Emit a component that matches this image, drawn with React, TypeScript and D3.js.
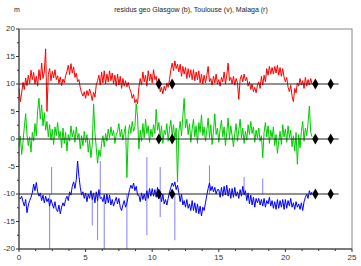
import * as d3 from "d3";

const W = 361;
const H = 266;
const MARGIN = { top: 29, right: 9, bottom: 17, left: 19 };

const TITLE = "residus geo Glasgow (b), Toulouse (v), Malaga (r)";
const Y_UNIT = "m";

// sampling step of the three series (days)
const STEP = 0.1;

// Malaga (r)
const malaga = [
  9.2, 6.8, 8.4, 10.3, 9.0, 11.1, 9.7, 11.6, 10.1, 12.5,
  10.8, 12.1, 10.0, 11.4, 9.6, 12.6, 10.7, 13.8, 11.0, 12.2,
  16.4, 5.0, 11.7, 12.8, 10.6, 12.3, 11.1, 12.6, 10.8, 11.5,
  10.1, 11.3, 9.7, 10.9, 10.2, 11.5, 12.3, 13.4, 11.7, 13.7,
  12.0, 13.1, 11.2, 12.0, 10.4, 10.8, 9.3, 8.4, 7.8, 8.6,
  7.4, 8.8, 7.9, 9.1, 8.2, 7.0, 8.5, 7.6, 9.8, 10.6,
  11.6, 9.8, 12.2, 10.2, 12.4, 10.0, 11.8, 10.4, 12.4, 10.6,
  12.0, 10.0, 11.6, 9.6, 11.8, 9.8, 11.4, 9.2, 11.0, 9.6,
  10.6, 9.5, 10.3, 9.2, 8.6, 7.4, 8.1, 6.6, 7.2, 6.4,
  9.4, 11.0, 9.8, 12.2, 10.4, 11.6, 9.6, 12.4, 10.6, 11.8,
  10.2, 12.6, 10.8, 11.4, 9.6, 11.0, 8.6, 9.4, 8.2, 9.6,
  8.8, 10.2, 9.4, 10.8, 12.6, 13.8, 12.4, 14.2, 12.8, 13.6,
  12.2, 13.6, 11.4, 13.2, 11.8, 13.0, 11.0, 12.8, 11.2, 12.6,
  10.8, 12.6, 10.6, 12.2, 10.8, 12.4, 10.2, 11.8, 10.0, 11.6,
  10.2, 11.6, 13.2, 10.4, 11.0, 9.8, 11.4, 10.2, 11.8, 10.0,
  10.8, 9.6, 11.2, 10.4, 12.2, 10.0, 11.6, 13.8, 10.6, 11.2,
  10.0, 11.4, 9.8, 11.0, 10.2, 7.2, 10.8, 11.6, 10.4, 11.8,
  10.6, 11.2, 9.6, 10.4, 9.0, 10.0, 8.6, 9.4, 8.4, 9.8,
  10.4, 9.2, 11.4, 9.8, 11.6, 10.4, 12.8, 11.6, 13.2, 11.8,
  13.0, 11.8, 13.2, 12.0, 13.4, 11.6, 13.0, 11.4, 12.8, 11.2,
  10.4, 11.2, 9.4, 8.6, 9.8, 7.8, 6.8, 9.2, 8.4, 10.2,
  9.6, 11.0, 9.8, 10.6, 9.2, 11.2, 9.6, 10.8, 9.8, 11.0,
  10.0,
];

// Toulouse (v)
const toulouse = [
  -1.5, 0.5, -2.8, -0.6, 2.2, 4.6, 0.8, -1.2, 0.4, -2.4,
  1.2, -0.4, 2.8, 0.6, 5.2, 7.4, 3.6, 6.2, 2.4, 4.8,
  1.6, 3.2, 0.4, 2.6, -0.2, 1.8, -1.0, 2.2, 0.6, 3.0,
  0.2, 1.4, -1.6, 2.0, -0.8, 1.2, -2.2, 0.8, -0.4, 2.4,
  0.4, 1.6, -0.6, 2.2, 0.0, 1.0, -1.8, 0.6, -1.2, 1.4,
  -0.6, 0.8, -2.4, -0.2, -3.4, -1.0, 6.4, 1.2, -1.6, -4.4,
  -2.0, -3.2, -0.8, 0.6, -1.4, 1.0, -0.4, 1.8, 0.2, 2.2,
  0.6, 1.6, -0.8, 0.8, 1.4, 2.8, 0.4, 1.8, -0.2, 1.2,
  2.4, -7.0, 0.8, 2.6, 1.0, 3.2, 1.4, 2.2, 6.4, 4.0,
  -1.8, 1.6, -0.4, 2.8, 0.2, 3.6, 1.0, 2.4, -0.6, 1.8,
  0.4, 2.6, 1.0, 5.4, 1.6, 3.0, 0.2, 2.4, -0.8, 1.6,
  0.8, 2.8, -0.4, 1.8, 3.4, 0.6, 2.6, -0.2, 2.0, -7.8,
  1.4, 3.2, 0.6, 4.2, 7.4, 2.0, 3.6, 0.8, 2.8, -0.6,
  1.8, 3.6, 0.4, 2.4, -0.8, 3.0, 1.2, 4.4, 0.6, 2.2,
  -0.4, 1.6, 3.8, 0.2, 2.6, -1.0, 1.4, 4.6, 0.8, 2.0,
  -0.6, 1.8, 3.4, 0.4, 2.2, -1.2, 1.2, 3.8, 0.0, 2.4,
  0.6, -1.4, 1.0, 2.8, -0.4, 1.6, 3.6, 0.2, 2.0, -0.8,
  1.4, -0.2, 2.6, 0.8, 3.2, 1.0, 2.2, -0.6, 1.6, 0.2,
  2.0, -0.4, 0.6, -3.4, 1.2, 3.0, 0.4, 2.4, -0.8, 1.6,
  0.2, 2.2, -1.2, 0.8, -2.6, -0.4, 1.4, -1.0, 2.6, 0.4,
  1.8, -0.6, 2.4, 0.2, 1.6, -1.4, 0.6, -2.2, 1.2, -4.6,
  0.8, -1.6, 1.4, 3.2, -0.4, 2.0, 0.6, 2.8, 6.0, 1.2,
  0.4,
];

// Glasgow (b)
const glasgow = [
  -10.6, -10.9, -10.4, -11.4, -12.2, -11.0, -13.4, -12.0, -11.2, -10.6,
  -9.8, -8.2, -9.4, -7.9, -9.6, -10.4, -9.8, -11.2, -10.2, -11.6,
  -10.4, -11.4, -10.8, -12.2, -11.0, -11.8, -12.6, -11.4, -12.8, -13.2,
  -12.0, -13.6, -12.4, -11.6, -12.2, -11.0, -10.4, -11.2, -9.6, -10.2,
  -8.6, -7.8, -9.0, -7.4, -4.0, -6.8, -8.8, -10.2, -9.6, -10.8,
  -9.8, -11.4, -10.0, -10.8, -9.4, -11.0, -9.8, -11.6, -9.6, -11.2,
  -9.2, -10.8, -10.6, -11.4, -10.2, -11.8, -10.0, -11.6, -10.2, -12.0,
  -11.0, -12.2, -11.4, -10.6, -11.8, -10.8, -12.4, -13.0, -12.0, -11.2,
  -12.4, -11.6, -10.4, -9.2, -8.4, -9.0, -8.0, -9.4, -8.6, -10.2,
  -10.2, -11.4, -9.8, -11.0, -10.0, -11.2, -9.4, -10.8, -9.0, -10.4,
  -9.0, -10.4, -9.2, -10.6, -8.8, -10.8, -9.6, -11.4, -10.0, -11.8,
  -11.0, -12.0, -10.8, -9.6, -8.8, -8.0, -8.6, -7.8, -9.2, -8.4,
  -9.8, -11.4, -10.0, -12.0, -11.2, -12.4, -11.0, -12.6, -11.8, -13.0,
  -11.2, -13.0, -11.6, -13.4, -11.8, -13.6, -12.2, -14.0, -12.4, -13.0,
  -11.6, -10.2, -9.0, -8.0, -9.4, -8.6, -9.6, -8.8, -10.0, -9.2,
  -9.2, -10.6, -8.8, -10.4, -8.6, -10.2, -8.4, -10.4, -9.0, -10.8,
  -9.0, -10.6, -8.8, -10.4, -9.6, -10.8, -9.2, -10.4, -8.6, -10.2,
  -9.4, -11.2, -9.8, -11.8, -10.2, -12.0, -10.6, -12.4, -10.8, -11.6,
  -10.8, -12.0, -11.0, -12.2, -10.8, -12.4, -11.2, -11.8, -10.6, -12.2,
  -11.2, -12.6, -11.4, -12.8, -11.0, -12.6, -11.2, -12.4, -11.0, -12.8,
  -11.0, -12.6, -11.2, -12.2, -10.8, -12.4, -11.6, -12.8, -11.4, -12.4,
  -11.8, -12.8, -11.6, -13.0, -11.4, -10.6, -10.0, -10.8, -9.4, -10.2,
  -9.6,
];

// isolated outliers of Glasgow: [time, low, high]
const glasgowSpikes: [number, number, number][] = [
  [2.3, -20, -10], [2.45, -10, -5.1], [5.5, -15.7, -10], [5.9, -18.4, -10],
  [6.1, -10, -4], [6.4, -20, -10], [8.1, -20, -10], [9.6, -17.5, -3.3],
  [10.6, -14.2, -5.1], [11.7, -18.4, -10], [14.3, -10, -4.8],
  [16.9, -10, -6.9], [18.3, -10, -7.2],
];

const refLevels = [10, 0, -10];
const refEnd = 24;
const markerTimes = [10.5, 11.5, 22.25, 23.4];

const xTicks = [0, 5, 10, 15, 20, 25];
const yTicks = [-20, -15, -10, -5, 0, 5, 10, 15, 20];

const SERIES = [
  { name: "Malaga", values: malaga, color: "#ff0000" },
  { name: "Toulouse", values: toulouse, color: "#00cc00" },
  { name: "Glasgow", values: glasgow, color: "#0000ff" },
];

export default function App() {
  const x = d3.scaleLinear().domain([0, 25]).range([MARGIN.left, W - MARGIN.right]);
  const y = d3.scaleLinear().domain([-20, 20]).range([H - MARGIN.bottom, MARGIN.top]);

  const line = d3
    .line<number>()
    .x((_, i) => x(i * STEP))
    .y((d) => y(d));

  const xMinor = d3.range(0, 25.01, 1.25).filter((v) => !xTicks.includes(v));
  const yMinor = d3.range(-20, 20.01, 2.5).filter((v) => !yTicks.includes(v));

  const diamond = d3.symbol(d3.symbolDiamond, 34)();

  const font = "'Liberation Sans', Arial, sans-serif";

  return (
    <div style={{ position: "absolute", left: 0, top: 0 }}>
      <svg width={W} height={H} style={{ display: "block", background: "#fff" }}>
        <text x={17} y={12} fontSize={7} fontFamily={font} fill="#222" textAnchor="middle">
          {Y_UNIT}
        </text>
        <text x={191} y={12} fontSize={7} fontFamily={font} fill="#222" textAnchor="middle">
          {TITLE}
        </text>

        {/* frame */}
        <rect
          x={x(0)}
          y={y(20)}
          width={x(25) - x(0)}
          height={y(-20) - y(20)}
          fill="none"
          stroke="#888"
          strokeWidth={1}
        />

        {SERIES.map((s) => (
          <path key={s.name} d={line(s.values) ?? ""} fill="none" stroke={s.color} strokeWidth={1} />
        ))}

        {glasgowSpikes.map(([t, lo, hi], i) => (
          <line
            key={i}
            x1={x(t)}
            x2={x(t)}
            y1={y(lo)}
            y2={y(hi)}
            stroke="#0000ff"
            strokeOpacity={0.5}
            strokeWidth={1}
          />
        ))}

        {refLevels.map((v) => (
          <line key={v} x1={x(0)} x2={x(refEnd)} y1={y(v)} y2={y(v)} stroke="#222" strokeWidth={1} />
        ))}

        {refLevels.map((v) =>
          markerTimes.map((t) => (
            <path key={`${v}-${t}`} d={diamond ?? ""} transform={`translate(${x(t)},${y(v)})`} fill="#000" />
          ))
        )}

        {/* axes */}
        <line x1={x(0)} x2={x(0)} y1={y(-20)} y2={y(20)} stroke="#333" />
        <line x1={x(0)} x2={x(25)} y1={y(-20)} y2={y(-20)} stroke="#333" />

        {yTicks.map((v) => (
          <g key={v}>
            <line x1={x(0) - 3} x2={x(0)} y1={y(v)} y2={y(v)} stroke="#333" />
            <text
              x={x(0) - 4}
              y={y(v)}
              fontSize={8}
              fontFamily={font}
              fill="#333"
              textAnchor="end"
              dominantBaseline="middle"
            >
              {v}
            </text>
          </g>
        ))}
        {yMinor.map((v) => (
          <line key={v} x1={x(0) - 2} x2={x(0)} y1={y(v)} y2={y(v)} stroke="#333" />
        ))}

        {xTicks.map((v) => (
          <g key={v}>
            <line x1={x(v)} x2={x(v)} y1={y(-20)} y2={y(-20) + 3} stroke="#333" />
            <text
              x={x(v)}
              y={y(-20) + 11}
              fontSize={8}
              fontFamily={font}
              fill="#333"
              textAnchor="middle"
            >
              {v}
            </text>
          </g>
        ))}
        {xMinor.map((v) => (
          <line key={v} x1={x(v)} x2={x(v)} y1={y(-20)} y2={y(-20) + 2} stroke="#333" />
        ))}
      </svg>
    </div>
  );
}
